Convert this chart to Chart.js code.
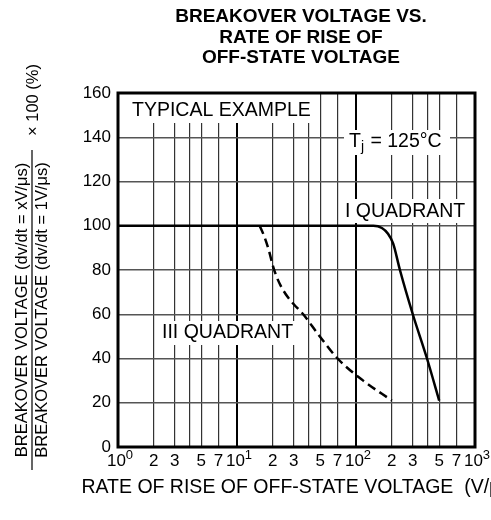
<!DOCTYPE html>
<html>
<head>
<meta charset="utf-8">
<script src="https://cdn.jsdelivr.net/npm/chart.js@4.4.1/dist/chart.umd.min.js"></script>
<style>
  html, body { margin: 0; padding: 0; background: #fff; }
  #wrap { width: 491px; height: 520px; }
</style>
</head>
<body>
<div id="wrap"><canvas id="chart" width="491" height="520"></canvas></div>
<script>
// values
const quadrant1X = [1, 140, 165, 185, 205, 234, 300, 395, 500];
const quadrant1Y = [100, 100, 99, 96.5, 92, 80, 60, 40, 21];
const quadrant3X = [15.5, 17, 18.5, 20, 21.5, 23.5, 26.5, 30, 36, 48, 70, 115, 200];
const quadrant3Y = [100, 95, 89, 82, 77, 72.5, 68, 64.5, 60, 51, 40, 30, 21];

const xTickValues = [1, 2, 3, 5, 7, 10, 20, 30, 50, 70, 100, 200, 300, 500, 700, 1000];
const xGridValues = [1, 2, 3, 4, 5, 7, 10, 20, 30, 40, 50, 70, 100, 200, 300, 400, 500, 700, 1000];
const yMin = 0, yMax = 160, yStep = 20;

const titleLines = ['BREAKOVER VOLTAGE VS.', 'RATE OF RISE OF', 'OFF-STATE VOLTAGE'];
const FONT = '"Liberation Sans", Arial, Helvetica, sans-serif';

const isDecade = (v) => Math.abs(Math.log10(v) - Math.round(Math.log10(v))) < 1e-9;
const toPoints = (xs, ys) => xs.map((x, i) => ({ x: x, y: ys[i] }));

function boxedText(ctx, text, x, y, box) {
    ctx.fillStyle = '#fff';
    ctx.fillRect(box[0], box[1], box[2], box[3]);
    ctx.fillStyle = '#000';
    ctx.fillText(text, x, y);
}

const decorations = {
    id: 'decorations',
    beforeDatasetsDraw(chart) {
        const { ctx, chartArea } = chart;
        ctx.save();
        ctx.font = '19.5px ' + FONT;
        ctx.textBaseline = 'middle';
        ctx.textAlign = 'left';
        boxedText(ctx, 'TYPICAL EXAMPLE', 132, 111, [chartArea.left + 1, chartArea.top + 1, 201, 29]);
        boxedText(ctx, 'I QUADRANT', 345, 212, [341, 199, 130, 24]);
        boxedText(ctx, 'III QUADRANT', 162, 333, [158, 321, 139, 24]);

        // Tj = 125°C with subscript j
        ctx.fillStyle = '#fff';
        ctx.fillRect(344, 130, 106, 25);
        ctx.fillStyle = '#000';
        ctx.fillText('T', 349, 142);
        const tw = ctx.measureText('T').width;
        ctx.font = '14px ' + FONT;
        ctx.fillText('j', 349 + tw, 147);
        const jw = ctx.measureText('j').width;
        ctx.font = '19.5px ' + FONT;
        ctx.fillText(' = 125°C', 349 + tw + jw + 1, 142);
        ctx.restore();
    },
    afterDraw(chart) {
        const { ctx, chartArea, scales } = chart;
        ctx.save();
        ctx.strokeStyle = '#000';
        ctx.lineWidth = 3;
        ctx.strokeRect(chartArea.left, chartArea.top, chartArea.right - chartArea.left, chartArea.bottom - chartArea.top);

        // title
        ctx.fillStyle = '#000';
        ctx.textAlign = 'center';
        ctx.textBaseline = 'middle';
        ctx.font = 'bold 19px ' + FONT;
        titleLines.forEach((line, i) => ctx.fillText(line, 301, 17 + i * 20.5));

        // x tick labels: decades as 10 with a superscript, others as the leading digit
        const ty = chartArea.bottom + 14;
        xTickValues.forEach((v) => {
            const px = scales.x.getPixelForValue(v);
            const exp = Math.floor(Math.log10(v) + 1e-9);
            if (isDecade(v)) {
                ctx.font = '17px ' + FONT;
                const bw = ctx.measureText('10').width;
                ctx.font = '13px ' + FONT;
                const ew = ctx.measureText(String(exp)).width;
                const x0 = px - (bw + ew) / 2 + 2;
                ctx.textAlign = 'left';
                ctx.font = '17px ' + FONT;
                ctx.fillText('10', x0, ty);
                ctx.font = '13px ' + FONT;
                ctx.fillText(String(exp), x0 + bw, ty - 6);
            } else {
                ctx.textAlign = 'center';
                ctx.font = '17px ' + FONT;
                ctx.fillText(String(Math.round(v / Math.pow(10, exp))), px, ty);
            }
        });

        // x axis title
        ctx.textAlign = 'center';
        ctx.font = '19.5px ' + FONT;
        ctx.fillText('RATE OF RISE OF OFF-STATE VOLTAGE  (V/\u03bcs)', 299, 488);

        // y axis title as a fraction
        ctx.save();
        ctx.translate(32, 310);
        ctx.rotate(-Math.PI / 2);
        ctx.font = '16.5px ' + FONT;
        ctx.fillText('BREAKOVER VOLTAGE (dv/dt = xV/\u03bcs)', 0, -10);
        ctx.fillText('BREAKOVER VOLTAGE (dv/dt = 1V/\u03bcs)', 0, 10);
        ctx.fillRect(-160, -0.6, 320, 1.2);
        ctx.restore();
        ctx.save();
        ctx.translate(33, 100);
        ctx.rotate(-Math.PI / 2);
        ctx.font = '16.5px ' + FONT;
        ctx.fillText('\u00d7 100 (%)', 0, 0);
        ctx.restore();
        ctx.restore();
    },
};

const ctx = document.getElementById('chart').getContext('2d');
new Chart(ctx, {
    type: 'line',
    data: {
        datasets: [{
            label: 'I QUADRANT',
            data: toPoints(quadrant1X, quadrant1Y),
            borderColor: '#000',
            borderWidth: 2.5,
            pointRadius: 0,
            cubicInterpolationMode: 'monotone',
            fill: false,
        }, {
            label: 'III QUADRANT',
            data: toPoints(quadrant3X, quadrant3Y),
            borderColor: '#000',
            borderWidth: 2.5,
            borderDash: [9, 5],
            pointRadius: 0,
            cubicInterpolationMode: 'monotone',
            fill: false,
        }],
    },
    options: {
        responsive: false,
        animation: false,
        devicePixelRatio: 1,
        layout: { padding: { top: 93, right: 16, left: 0, bottom: 0 } },
        plugins: {
            legend: { display: false },
            tooltip: { enabled: false },
            title: { display: false },
        },
        scales: {
            x: {
                type: 'logarithmic',
                min: 1,
                max: 1000,
                afterBuildTicks: (scale) => { scale.ticks = xGridValues.map((v) => ({ value: v })); },
                afterFit: (scale) => { scale.height = 73; },
                ticks: { display: false },
                border: { display: false },
                grid: {
                    drawTicks: false,
                    color: (c) => (c.tick && isDecade(c.tick.value) ? '#000' : '#333'),
                    lineWidth: (c) => (c.tick && isDecade(c.tick.value) ? 2 : 1.2),
                },
            },
            y: {
                min: yMin,
                max: yMax,
                afterFit: (scale) => { scale.width = 118; },
                ticks: {
                    stepSize: yStep,
                    padding: 7,
                    color: '#000',
                    font: { size: 17, family: FONT },
                },
                border: { display: false },
                grid: { drawTicks: false, color: '#555', lineWidth: 1.4 },
            },
        },
    },
    plugins: [decorations],
});
</script>
</body>
</html>
